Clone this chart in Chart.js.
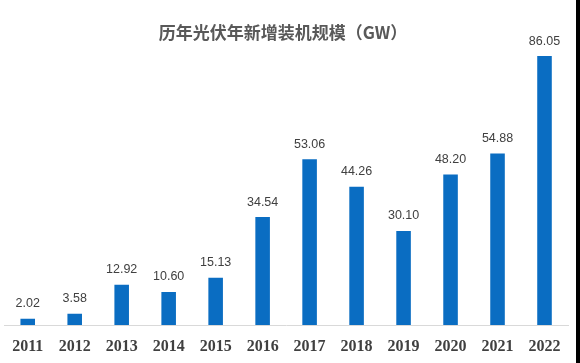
<!DOCTYPE html>
<html>
<head>
<meta charset="utf-8">
<script src="https://cdn.jsdelivr.net/npm/chart.js@4/dist/chart.umd.min.js"></script>
<style>
  html, body { margin: 0; padding: 0; background: #fff; }
  .wrap { width: 576px; height: 363px; border-right: 4px solid #000; }
</style>
</head>
<body>
<div class="wrap"><canvas id="pvChart" width="576" height="363"></canvas></div>
<script>
// ----- DATA -----
const years = ['2011', '2012', '2013', '2014', '2015', '2016', '2017', '2018', '2019', '2020', '2021', '2022']
const newCapacity = [2.02, 3.58, 12.92, 10.6, 15.13, 34.54, 53.06, 44.26, 30.1, 48.2, 54.88, 86.05]
const chartTitle = '历年光伏年新增装机规模（GW）'

// title + value labels drawn by hand so they sit where the original has them
const labelsPlugin = {
  id: 'barLabels',
  afterDatasetsDraw(chart) {
    const ctx = chart.ctx
    const meta = chart.getDatasetMeta(0)
    ctx.save()
    ctx.fillStyle = '#404040'
    ctx.font = '12.5px "Liberation Sans Narrow", "Liberation Sans", Arial, sans-serif'
    ctx.textAlign = 'center'
    ctx.textBaseline = 'middle'
    meta.data.forEach((bar, i) => {
      ctx.fillText(newCapacity[i].toFixed(2), bar.x, bar.y - 15)
    })

    ctx.fillStyle = '#595959'
    ctx.font = 'bold 17px "Noto Sans CJK SC", sans-serif'
    ctx.fillText(chartTitle, 283, 33)
    ctx.restore()
  },
}

const ctx = document.getElementById('pvChart').getContext('2d')
new Chart(ctx, {
  type: 'bar',
  data: {
    labels: years,
    datasets: [
      {
        data: newCapacity,
        backgroundColor: '#0A6DC2',
        barPercentage: 0.31,
        categoryPercentage: 1,
      },
    ],
  },
  options: {
    responsive: false,
    animation: false,
    layout: { padding: { top: 50, left: 4, right: 8, bottom: 6 } },
    plugins: { legend: { display: false }, tooltip: { enabled: false } },
    scales: {
      x: {
        grid: { display: false, drawTicks: false },
        border: { display: true, color: '#d9d9d9', width: 1 },
        ticks: {
          padding: 12,
          color: '#404040',
          font: { family: '"Liberation Serif", "Times New Roman", serif', size: 16, weight: 'bold' },
        },
        afterFit(scale) {
          scale.height = 32 // keep the axis strip the same height as the original
        },
      },
      y: { display: false, min: 0, max: 88 },
    },
  },
  plugins: [labelsPlugin],
})
</script>
</body>
</html>
